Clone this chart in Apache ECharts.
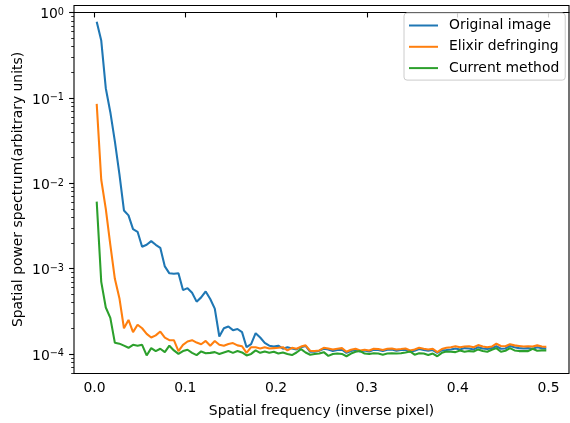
<!DOCTYPE html>
<html><head><meta charset="utf-8">
<script src="https://cdn.jsdelivr.net/npm/echarts@6/dist/echarts.min.js"></script>
<style>html,body{margin:0;padding:0;background:#fff}#c{width:570px;height:423px}</style>
</head><body><div id="c"></div>
<script>
const freq = [
0.0025,0.0075,0.0125,0.0175,0.0225,0.0275,0.0325,0.0375,0.0425,0.0475,
0.0525,0.0575,0.0625,0.0675,0.0725,0.0775,0.0825,0.0875,0.0925,0.0975,
0.1025,0.1075,0.1125,0.1175,0.1225,0.1275,0.1325,0.1375,0.1425,0.1475,
0.1525,0.1575,0.1625,0.1675,0.1725,0.1775,0.1825,0.1875,0.1925,0.1975,
0.2025,0.2075,0.2125,0.2175,0.2225,0.2275,0.2325,0.2375,0.2425,0.2475,
0.2525,0.2575,0.2625,0.2675,0.2725,0.2775,0.2825,0.2875,0.2925,0.2975,
0.3025,0.3075,0.3125,0.3175,0.3225,0.3275,0.3325,0.3375,0.3425,0.3475,
0.3525,0.3575,0.3625,0.3675,0.3725,0.3775,0.3825,0.3875,0.3925,0.3975,
0.4025,0.4075,0.4125,0.4175,0.4225,0.4275,0.4325,0.4375,0.4425,0.4475,
0.4525,0.4575,0.4625,0.4675,0.4725,0.4775,0.4825,0.4875,0.4925,0.4975];

const originalImage = [
0.78,0.47,0.13,0.068,0.031,0.0128,0.0048,0.0042,0.0029,0.0027,
0.0018,0.0019,0.0021,0.0019,0.00175,0.00106,0.00088,0.00087,0.00088,0.00056,
0.00059,0.00052,0.00041,0.00046,0.00054,0.00044,0.00034,0.00016,0.0002,0.00021,
0.00019,0.000196,0.00018,0.00012,0.00013,0.000175,0.000156,0.000135,0.000125,0.000122,
0.000125,0.000115,0.00012,0.000116,0.000113,0.00012,0.000124,0.000106,0.000106,0.000109,
0.000115,0.000113,0.000108,0.000111,0.000112,0.000103,0.000108,0.000112,0.000107,0.00011,
0.000107,0.000112,0.000111,0.000108,0.000112,0.000113,0.000109,0.000111,0.000112,0.000106,
0.000109,0.000114,0.000111,0.000109,0.000111,0.000103,0.00011,0.000111,0.000113,0.000116,
0.000113,0.000117,0.000116,0.000113,0.00012,0.000116,0.000114,0.000117,0.000123,0.000115,
0.000116,0.000124,0.00012,0.000117,0.000116,0.000117,0.000115,0.00012,0.000117,0.000116];

const elixirDefringing = [
0.085,0.011,0.005,0.0019,0.00076,0.00045,0.0002,0.00025,0.00018,0.00022,
0.0002,0.000172,0.000156,0.000165,0.000183,0.000155,0.000145,0.000145,0.000108,0.000128,
0.00014,0.000145,0.000136,0.00013,0.000142,0.000125,0.000142,0.000128,0.000125,0.000131,
0.000134,0.000126,0.000123,0.000103,0.00012,0.00012,0.000116,0.00012,0.000116,0.000117,
0.000118,0.00012,0.00011,0.000118,0.000115,0.000122,0.000126,0.000109,0.000108,0.00011,
0.000118,0.000116,0.000113,0.000115,0.000117,0.000106,0.000112,0.000115,0.00011,0.000112,
0.00011,0.000115,0.000114,0.000111,0.000115,0.000116,0.000113,0.000114,0.000116,0.00011,
0.000113,0.000118,0.000115,0.000113,0.000115,0.000105,0.000114,0.000118,0.00012,0.000123,
0.00012,0.000122,0.000123,0.00012,0.000127,0.000122,0.00012,0.000122,0.000132,0.000124,
0.000123,0.00013,0.000126,0.000124,0.000122,0.000123,0.000122,0.000126,0.000122,0.000121];

const currentMethod = [
0.0061,0.0007,0.00035,0.000265,0.000135,0.000132,0.000125,0.000118,0.000128,0.000125,
0.000128,0.000096,0.000117,0.000108,0.000115,0.000105,0.000125,0.00011,0.0001,0.000108,
0.000112,0.000103,0.000097,0.000107,0.000102,0.000103,0.000105,0.0001,0.000104,0.000108,
0.000103,0.000108,0.000104,0.000096,0.0001,0.00011,0.000103,0.000107,0.000103,0.000106,
0.000101,0.000104,0.0001,0.000097,0.000104,0.000114,0.000104,0.000098,0.0001,0.000101,
0.000105,0.000095,0.0001,0.000101,0.0001,0.000094,0.000101,0.000106,0.000108,0.000101,
0.0001,0.000102,0.000101,0.000098,0.000101,0.000102,0.000101,0.000102,0.000104,0.000107,
0.000098,0.000102,0.000101,0.000097,0.000101,0.000094,0.000103,0.000107,0.000106,0.000105,
0.00011,0.000106,0.000108,0.000107,0.000113,0.000108,0.000106,0.000112,0.000117,0.000106,
0.000109,0.000117,0.00011,0.000108,0.000108,0.000108,0.000115,0.000109,0.00011,0.00011];

const seriesNames = ['Original image', 'Elixir defringing', 'Current method'];
const seriesColors = ['#1f77b4', '#ff7f0e', '#2ca02c'];
const xTicks = [0, 0.1, 0.2, 0.3, 0.4, 0.5];
const yMajorExp = [-4, -3, -2, -1, 0];
const xTitle = 'Spatial frequency (inverse pixel)';
const yTitle = 'Spatial power spectrum(arbitrary units)';

const xMin = -0.0225, xMax = 0.5225;
const yMin = 5.9e-5, yMax = 1.21;
const lMin = Math.log10(yMin), lMax = Math.log10(yMax);

const minorExp = [];
for (let e = -5; e <= 0; e++) {
  for (let m = 2; m <= 9; m++) {
    const l = e + Math.log10(m);
    if (l > lMin && l < lMax) minorExp.push(l);
  }
}

const expText = v => String(Math.round(v)).replace('-', '\u2212');

const FONT = 'DejaVu Sans';
const FS = 13.9;
const txt = {color: '#000', fontFamily: FONT, fontSize: FS};

const allData = [originalImage, elixirDefringing, currentMethod];

const chart = echarts.init(document.getElementById('c'), null, {renderer: 'canvas'});
chart.setOption({
  animation: false,
  backgroundColor: '#fff',
  grid: {left: 74, right: 1, top: 5.5, bottom: 45, show: true,
         borderColor: '#000', borderWidth: 1.1, backgroundColor: 'transparent'},
  xAxis: {
    type: 'value', min: xMin, max: xMax,
    axisLine: {show: true, lineStyle: {color: '#000', width: 1.1}},
    splitLine: {show: false},
    axisTick: {show: true, customValues: xTicks, length: 4.9, lineStyle: {color: '#000', width: 1.1}},
    axisLabel: {customValues: xTicks, formatter: v => v.toFixed(1), margin: 8, ...txt},
    name: xTitle, nameLocation: 'middle', nameGap: 30.5, nameMoveOverlap: false, nameTextStyle: txt
  },
  yAxis: [
    {type: 'log', logBase: 10, min: yMin, max: yMax, show: false},
    {type: 'value', min: lMin, max: lMax, position: 'left',
     axisLine: {show: false}, splitLine: {show: false},
     axisTick: {show: true, customValues: yMajorExp, length: 4.9, lineStyle: {color: '#000', width: 1.1}},
     axisLabel: {customValues: yMajorExp, margin: 10,
       formatter: v => '{b|10}{s|' + expText(v) + '}',
       rich: {
         b: {color: '#000', fontFamily: FONT, fontSize: FS, lineHeight: 14, verticalAlign: 'bottom'},
         s: {color: '#000', fontFamily: FONT, fontSize: 9.7, lineHeight: 10, verticalAlign: 'top'}
       }, ...txt, lineHeight: 17, padding: [4, 0, 0, 0]},
     name: yTitle, nameLocation: 'middle', nameGap: 49, nameMoveOverlap: false, nameTextStyle: txt},
    {type: 'value', min: lMin, max: lMax, position: 'left',
     axisLine: {show: false}, splitLine: {show: false},
     axisTick: {show: true, customValues: minorExp, length: 2.8, lineStyle: {color: '#000', width: 0.83}},
     axisLabel: {show: false}}
  ],
  legend: {
    data: seriesNames, orient: 'vertical', left: 404, top: 13,
    padding: [5.5, 6, 5, 5], itemWidth: 29, itemHeight: 2, itemGap: 7.3, icon: 'rect',
    backgroundColor: 'rgba(255,255,255,0.8)', borderColor: '#cccccc', borderWidth: 1, borderRadius: 3,
    textStyle: {...txt, padding: [0, 0, 0, 6]}
  },
  series: seriesNames.map((n, s) => ({
    name: n, type: 'line', xAxisIndex: 0, yAxisIndex: 0,
    data: freq.map((f, i) => [f, allData[s][i]]),
    showSymbol: false, symbol: 'none',
    lineStyle: {width: 2.08, color: seriesColors[s]},
    itemStyle: {color: seriesColors[s]},
    z: 2 + s
  }))
});
</script>
</body></html>
